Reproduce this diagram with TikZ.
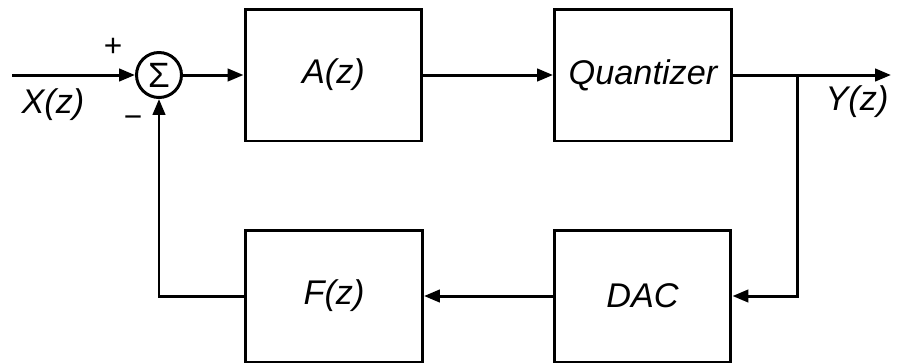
\documentclass[tikz,border=0pt]{standalone}
\usepackage{fontspec}
\setmainfont{Liberation Sans}
\usetikzlibrary{arrows.meta}

\begin{document}
\begin{tikzpicture}[x=0.02cm,y=-0.02cm,line width=1.7pt,>={Triangle[length=9pt,width=7pt]}]
	\tikzstyle{blk}=[draw,minimum width=3.54cm,minimum height=2.64cm,inner sep=0pt,font=\fontsize{19.5}{19.5}\selectfont\itshape];
	\tikzstyle{sig}=[font=\fontsize{19.5}{19.5}\selectfont\itshape];
	\tikzstyle{sgn}=[font=\fontsize{18}{18}\selectfont];
	\tikzstyle{sumnode}=[draw,circle,minimum size=0.9cm,inner sep=0pt,font=\fontsize{20}{20}\selectfont];

	\useasboundingbox (0,0) rectangle (899,363);
	\node[blk] (A) at (333.5,75)  {A(z)};
	\node[blk] (Q) at (643,75)    {Quantizer};
	\node[blk] (F) at (334,296)   {F(z)};
	\node[blk] (D) at (642.5,296) {DAC};
	\node[sumnode] (sum) at (159,75) {Σ};
	\coordinate (in)  at (12,75);
	\coordinate (out) at (891,75);
	\coordinate (br)  at (797,75);
	\node[sig] (X) at (53,105)  {X(z)};
	\node[sig] (Y) at (857,102) {Y(z)};
	\node[sgn] (plus)  at (113,47)  {+};
	\node[sgn] (minus) at (133,122) {−};

	\draw[->] (in) -- (sum);
	\draw[->] (sum) -- (A);
	\draw[->] (A) -- (Q);
	\draw[->] (Q) -- (out);
	\draw[->] (br) |- (D);
	\draw[->] (D) -- (F);
	\draw[->] (F) -| (sum);
\end{tikzpicture}
\end{document}
